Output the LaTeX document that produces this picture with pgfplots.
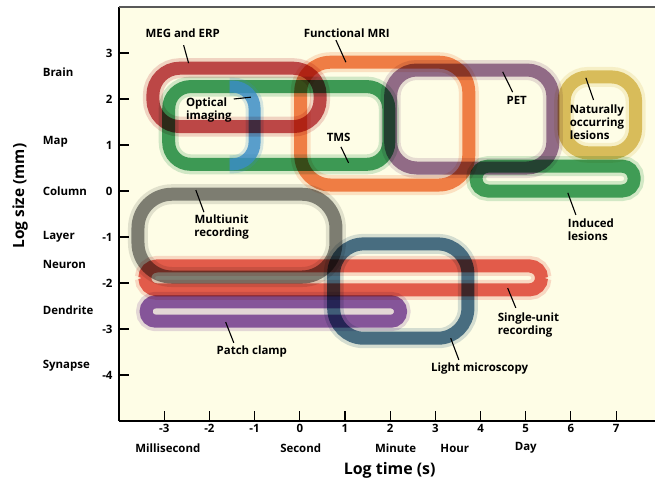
\documentclass[border=0pt]{standalone}
\usepackage{pgfplots}
\pgfplotsset{compat=1.18}
\usepackage{pgfplotstable}
\usepackage{fontspec}
\setmainfont{Open Sans}

\definecolor{bgc}{HTML}{FEFDE6}
\definecolor{cMEG}{HTML}{BC2C36}
\definecolor{cTMS}{HTML}{1F9449}
\definecolor{cOptB}{HTML}{3A8CC6}
\definecolor{cMRI}{HTML}{F07232}
\definecolor{cPET}{HTML}{8A5C8E}
\definecolor{cNat}{HTML}{D9BC52}
\definecolor{cInd}{HTML}{23984B}
\definecolor{cMulti}{HTML}{727372}
\definecolor{cLight}{HTML}{2E5E86}
\definecolor{cSingle}{HTML}{E4473A}
\definecolor{cPatch}{HTML}{7C40A6}

\pgfplotstableread{
x y
-1.40 2.67
0.45 2.67
0.45 1.40
-3.25 1.40
-3.25 2.67
-1.39 2.67
}\tMEG
\pgfplotstableread{
x y
-0.47 2.27
1.97 2.27
1.97 0.58
-2.90 0.58
-2.90 2.27
-0.46 2.27
}\tTMS
\pgfplotstableread{
x y
-1.55 2.27
-1.00 2.27
-1.00 0.58
-1.55 0.58
}\tOptB
\pgfplotstableread{
x y
1.88 2.80
3.74 2.80
3.74 0.13
0.02 0.13
0.02 2.80
1.89 2.80
}\tMRI
\pgfplotstableread{
x y
3.80 2.63
5.60 2.63
5.60 0.50
2.01 0.50
2.01 2.63
3.81 2.63
}\tPET
\pgfplotstableread{
x y
6.64 2.48
7.43 2.48
7.43 0.83
5.85 0.83
5.85 2.48
6.65 2.48
}\tNat
\pgfplotstableread{
x y
5.65 0.54
7.40 0.54
7.40 0.00
3.90 0.00
3.90 0.54
5.66 0.54
}\tInd
\pgfplotstableread{
x y
-1.39 -0.07
0.80 -0.07
0.80 -1.87
-3.58 -1.87
-3.58 -0.07
-1.38 -0.07
}\tMulti
\pgfplotstableread{
x y
2.23 -1.15
3.72 -1.15
3.72 -3.20
0.75 -3.20
0.75 -1.15
2.24 -1.15
}\tLight
\pgfplotstableread{
x y
0.96 -1.63
5.35 -1.63
5.35 -2.15
-3.43 -2.15
-3.43 -1.63
0.97 -1.63
}\tSingle
\pgfplotstableread{
x y
-0.58 -2.41
2.23 -2.41
2.23 -2.83
-3.40 -2.83
-3.40 -2.41
-0.57 -2.41
}\tPatch

\newcommand{\blob}[3]{%
  \addplot[draw=#2, line width=20bp, draw opacity=0.2, rounded corners=#3, no markers, blend mode=multiply] table {#1};
  \addplot[draw=#2, line width=13bp, draw opacity=0.8, rounded corners=#3, no markers, blend mode=multiply] table {#1};
}

\tikzset{lab/.style={font=\bfseries\fontsize{11.5}{13}\selectfont, align=center, inner sep=0pt},
         lead/.style={line width=1.1bp, black}}

\begin{document}
\begin{tikzpicture}
\begin{axis}[
  at={(0,0)}, anchor=south west,
  scale only axis, width=536bp, height=414bp,
  xmin=-4, xmax=7.86, ymin=-5, ymax=4,
  axis x line*=bottom, axis y line*=left,
  x axis line style={line width=1.4bp, black},
  y axis line style={line width=1.2bp, black},
  axis background/.style={fill=bgc},
  xtick={-3,-2,-1,0,1,2,3,4,5,6,7},
  ytick={-4,-3,-2,-1,0,1,2,3},
  tick align=inside, major tick length=10bp,
  tick style={line width=1.1bp, black},
  /pgf/number format/assume math mode=true,
  tick label style={font=\bfseries\fontsize{11.5}{12}\selectfont},
  yticklabel style={xshift=-3bp},
  clip=false,
]
\blob{\tMulti}{cMulti}{34bp}
\blob{\tLight}{cLight}{30bp}
\blob{\tSingle}{cSingle}{12bp}
\blob{\tPatch}{cPatch}{9.5bp}
\blob{\tTMS}{cTMS}{22bp}
\addplot[draw=cOptB, line width=18bp, draw opacity=0.2, rounded corners=22bp, no markers] table {\tOptB};
\addplot[draw=cOptB, line width=12bp, draw opacity=0.8, rounded corners=22bp, no markers] table {\tOptB};
\blob{\tMEG}{cMEG}{27bp}
\blob{\tMRI}{cMRI}{30bp}
\blob{\tPET}{cPET}{26bp}
\blob{\tNat}{cNat}{24bp}
\blob{\tInd}{cInd}{12bp}

\draw[line width=2bp, black!65] (rel axis cs:0,1) -- (rel axis cs:1,1);

% leader lines
\draw[lead] (axis cs:-2.57,3.17) -- (axis cs:-2.46,2.78);
\draw[lead] (axis cs:0.80,3.28) -- (axis cs:1.02,2.80);
\draw[lead] (axis cs:-1.46,2.00) -- (axis cs:-1.08,2.04);
\draw[lead] (axis cs:0.91,0.96) -- (axis cs:1.08,0.61);
\draw[lead] (axis cs:4.49,2.59) -- (axis cs:4.71,2.15);
\draw[lead] (axis cs:6.33,2.46) -- (axis cs:6.50,1.98);
\draw[lead] (axis cs:5.93,-0.04) -- (axis cs:6.11,-0.52);
\draw[lead] (axis cs:-2.30,0.02) -- (axis cs:-2.12,-0.46);
\draw[lead] (axis cs:-1.64,-2.85) -- (axis cs:-1.46,-3.30);
\draw[lead] (axis cs:4.60,-2.11) -- (axis cs:4.78,-2.54);
\draw[lead] (axis cs:3.34,-3.20) -- (axis cs:3.52,-3.67);

% shape labels
\node[lab] at (axis cs:-2.59,3.43) {MEG and ERP};
\node[lab] at (axis cs:1.04,3.43) {Functional MRI};
\node[lab, align=left, anchor=west] at (axis cs:-2.52,1.76) {Optical\\imaging};
\node[lab] at (axis cs:0.86,1.17) {TMS};
\node[lab] at (axis cs:4.80,1.98) {PET};
\node[lab, align=left, anchor=west] at (axis cs:5.97,1.50) {Naturally\\occurring\\lesions};
\node[lab, align=left, anchor=west] at (axis cs:5.93,-0.85) {Induced\\lesions};
\node[lab] at (axis cs:-1.73,-0.78) {Multiunit\\recording};
\node[lab] at (axis cs:-1.06,-3.50) {Patch clamp};
\node[lab, align=left, anchor=west] at (axis cs:4.38,-2.91) {Single-unit\\recording};
\node[lab] at (axis cs:3.98,-3.85) {Light microscopy};

% size categories
\node[lab, anchor=west] at (axis cs:-5.69,2.59) {Brain};
\node[lab, anchor=west] at (axis cs:-5.69,1.07) {Map};
\node[lab, anchor=west] at (axis cs:-5.69,0.00) {Column};
\node[lab, anchor=west] at (axis cs:-5.69,-1.00) {Layer};
\node[lab, anchor=west] at (axis cs:-5.69,-1.59) {Neuron};
\node[lab, anchor=west] at (axis cs:-5.69,-2.59) {Dendrite};
\node[lab, anchor=west] at (axis cs:-5.69,-3.80) {Synapse};

% time categories
\node[lab] at (axis cs:-2.92,-5.59) {Millisecond};
\node[lab] at (axis cs:0.02,-5.59) {Second};
\node[lab] at (axis cs:2.12,-5.59) {Minute};
\node[lab] at (axis cs:3.43,-5.59) {Hour};
\node[lab] at (axis cs:5.00,-5.59) {Day};

% axis titles
\node[font=\bfseries\fontsize{16}{18}\selectfont, inner sep=0pt] at (axis cs:1.99,-6.07) {Log time (s)};
\node[font=\bfseries\fontsize{15.5}{17}\selectfont, inner sep=0pt, rotate=90] at (axis cs:-6.19,-0.11) {Log size (mm)};
\end{axis}
\pgfresetboundingbox
\path (-119bp,-64bp) rectangle (536bp,421bp);
\end{tikzpicture}
\end{document}
